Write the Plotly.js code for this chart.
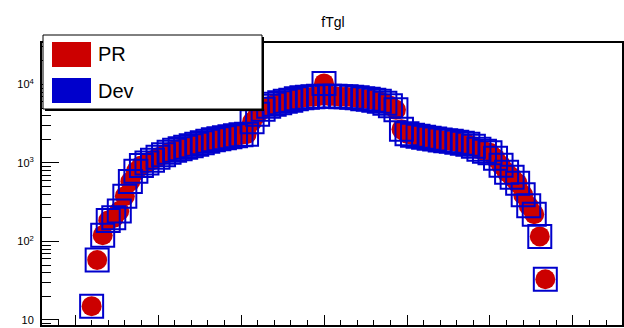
<!DOCTYPE html>
<html>
<head>
<meta charset="utf-8">
<script src="https://cdn.plot.ly/plotly-3.0.1.min.js"></script>
<style>html,body{margin:0;padding:0;background:#fff;}#chart{width:624px;height:328px;}</style>
</head>
<body>
<div id="chart"></div>
<script>
// ---- data ----
const binCenters = [
  -4.2,-4.1,-4.0,-3.9,-3.8,-3.7,-3.6,-3.5,-3.4,-3.3,-3.2,-3.1,-3.0,-2.9,-2.8,-2.7,-2.6,-2.5,-2.4,-2.3,
  -2.2,-2.1,-2.0,-1.9,-1.8,-1.7,-1.6,-1.5,-1.4,-1.3,-1.2,-1.1,-1.0,-0.9,-0.8,-0.7,-0.6,-0.5,-0.4,-0.3,
  -0.2,-0.1,0.0,0.1,0.2,0.3,0.4,0.5,0.6,0.7,0.8,0.9,1.0,1.1,1.2,1.3,1.4,1.5,1.6,1.7,
  1.8,1.9,2.0,2.1,2.2,2.3,2.4,2.5,2.6,2.7,2.8,2.9,3.0,3.1,3.2,3.3,3.4,3.5,3.6,3.7,
  3.8,3.9,4.0
];
const prValues = [
  15,58,120,185,200,244,378,581,783,930,1000,1083,1182,1272,1368,1451,1517,1586,1658,1731,
  1808,1889,1975,2033,2094,2158,2222,2288,2323,3350,4170,4830,5280,5600,5850,6110,6300,6580,6780,6870,
  6980,7080,10300,7080,7080,6980,6980,6870,6780,6580,6470,6300,6110,5750,5340,4750,2680,2355,2254,2186,
  2124,2063,2015,1966,1922,1889,1834,1783,1731,1633,1496,1410,1349,1148,935,763,658,551,393,285,
  222,116,33
];
const devValues = [
  15,58,120,185,200,244,378,581,783,930,1000,1083,1182,1272,1368,1451,1517,1586,1658,1731,
  1808,1889,1975,2033,2094,2158,2222,2288,2323,3350,4170,4830,5280,5600,5850,6110,6300,6580,6780,6870,
  6980,7080,10300,7080,7080,6980,6980,6870,6780,6580,6470,6300,6110,5750,5340,4750,2680,2355,2254,2186,
  2124,2063,2015,1966,1922,1889,1834,1783,1731,1633,1496,1410,1349,1148,935,763,658,551,393,285,
  222,116,33
];
const seriesNames = ["PR", "Dev"];
const chartTitle = "fTgl";
const yMajorVals = [10, 100, 1000, 10000];
const yMajorText = ["10", "10<sup>2</sup>", "10<sup>3</sup>", "10<sup>4</sup>"];
const yMinorVals = [9,20,30,40,50,60,70,80,90,200,300,400,500,600,700,800,900,
                    2000,3000,4000,5000,6000,7000,8000,9000,20000,30000];

// ---- layout geometry (pixels) ----
const W = 624, H = 328;
const PL = 42, PR_ = 622, PT = 43, PB = 325;
const pw = PR_ - PL, ph = PB - PT;
const px = v => (v - PL) / pw;
const py = v => (PB - v) / ph;
const FONT = "Liberation Sans, Arial, Helvetica, sans-serif";
const RED = "#cc0000", BLUE = "#0000cc";

const yRange = [0.936, 4.528];
const xRange = [-5.097, 5.386];

const traces = [
  {
    x: binCenters, y: prValues, name: seriesNames[0], type: "scatter", mode: "markers",
    xaxis: "x", yaxis: "y",
    marker: {symbol: "circle", size: 20, color: RED, line: {width: 0}},
    showlegend: false
  },
  {
    x: binCenters, y: devValues, name: seriesNames[1], type: "scatter", mode: "markers",
    xaxis: "x", yaxis: "y2",
    marker: {symbol: "square-open", size: 23, color: BLUE, line: {width: 2, color: BLUE}},
    showlegend: false
  }
];

const layout = {
  width: W, height: H,
  margin: {l: PL, r: W - PR_, t: PT, b: H - PB, pad: 0},
  paper_bgcolor: "#fff", plot_bgcolor: "#fff",
  showlegend: false,
  font: {family: FONT, color: "#000"},
  title: {text: chartTitle, x: 333 / W, xanchor: "center", y: 1 - 22 / H, yanchor: "middle",
          xref: "container", yref: "container", font: {family: FONT, size: 14, color: "#000"}},
  xaxis: {
    range: xRange, showgrid: false, zeroline: false,
    showline: true, linecolor: "#000", linewidth: 2, mirror: true,
    ticks: "inside", ticklen: 10, tickwidth: 1, tickcolor: "#000",
    tick0: 0, dtick: 1.5, showticklabels: false,
    minor: {ticks: "inside", dtick: 0.3, tick0: 0, ticklen: 5, tickwidth: 1, tickcolor: "#000", showgrid: false}
  },
  yaxis: {
    type: "log", range: yRange, showgrid: false, zeroline: false,
    showline: true, linecolor: "#000", linewidth: 2, mirror: true,
    ticks: "inside", ticklen: 17, tickwidth: 1, tickcolor: "#000",
    tickmode: "array", tickvals: yMajorVals, ticktext: yMajorText,
    tickfont: {family: FONT, size: 11, color: "#000"}, ticklabelstandoff: 4
  },
  yaxis2: {
    type: "log", range: yRange, overlaying: "y", side: "left", showgrid: false, zeroline: false,
    showline: false, ticks: "inside", ticklen: 9, tickwidth: 1, tickcolor: "#000",
    tickmode: "array", tickvals: yMinorVals, showticklabels: false
  },
  shapes: [
    // legend shadow + box
    {type: "rect", xref: "paper", yref: "paper", layer: "above",
     x0: px(45), x1: px(264), y0: py(111), y1: py(37), fillcolor: "#000", line: {width: 0}},
    {type: "rect", xref: "paper", yref: "paper", layer: "above",
     x0: px(43), x1: px(262), y0: py(109), y1: py(35), fillcolor: "#fff", line: {width: 1, color: "#000"}},
    {type: "rect", xref: "paper", yref: "paper", layer: "above",
     x0: px(52), x1: px(91), y0: py(67), y1: py(42), fillcolor: RED, line: {width: 0}},
    {type: "rect", xref: "paper", yref: "paper", layer: "above",
     x0: px(52), x1: px(91), y0: py(103), y1: py(78), fillcolor: BLUE, line: {width: 0}}
  ],
  annotations: [
    {xref: "paper", yref: "paper", x: px(96), y: py(54.5), xanchor: "left", yanchor: "middle",
     text: seriesNames[0], showarrow: false, font: {family: FONT, size: 20, color: "#000"}},
    {xref: "paper", yref: "paper", x: px(96), y: py(91), xanchor: "left", yanchor: "middle",
     text: seriesNames[1], showarrow: false, font: {family: FONT, size: 20, color: "#000"}}
  ]
};

Plotly.newPlot("chart", traces, layout, {staticPlot: true, displayModeBar: false});
</script>
</body>
</html>
